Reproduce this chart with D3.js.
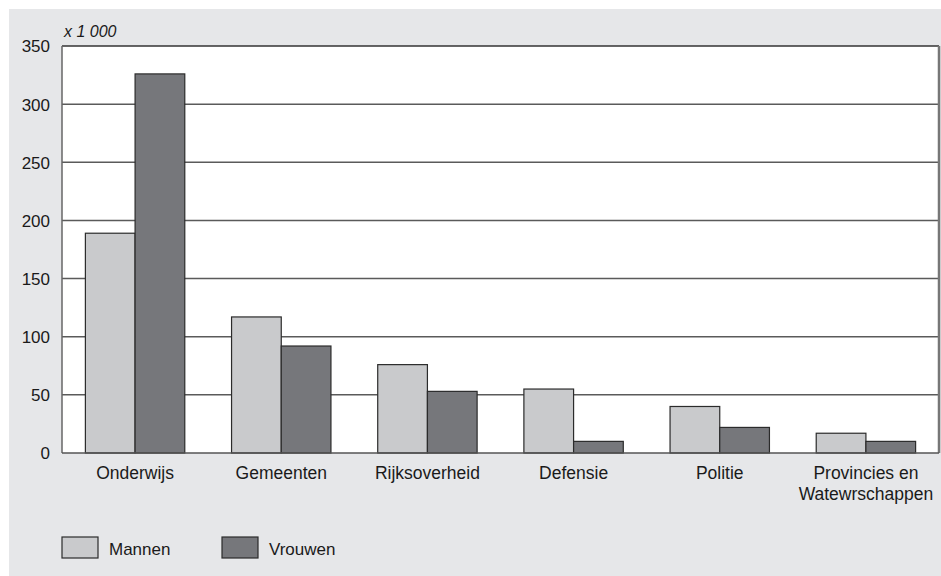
<!DOCTYPE html>
<html><head><meta charset="utf-8">
<script src="https://cdn.jsdelivr.net/npm/d3@7"></script>
<style>
html,body{margin:0;padding:0;background:#fff;}
svg{display:block;}
text{font-family:"Liberation Sans",Arial,Helvetica,sans-serif;fill:#1a1a1a;}
</style></head>
<body>
<svg id="chart" width="941" height="576"></svg>
<script>
const categories = ["Onderwijs","Gemeenten","Rijksoverheid","Defensie","Politie","Provincies en\nWatewrschappen"];
const seriesNames = ["Mannen","Vrouwen"];
const mannen = [189, 117, 76, 55, 40, 17];
const vrouwen = [326, 92, 53, 10, 22, 10];
const yTicks = [0,50,100,150,200,250,300,350];
const unitLabel = "x 1 000";
const colors = ["#c9cacc","#76777b"];

const svg = d3.select("#chart");
const W = 941, H = 576;
const m = {left:62, right:2, top:46, bottom:123};
const iw = W - m.left - m.right, ih = H - m.top - m.bottom;

svg.append("rect").attr("x",9).attr("y",9).attr("width",W-9).attr("height",H-9).attr("fill","#e6e7e9");

const g = svg.append("g").attr("transform",`translate(${m.left},${m.top})`);
g.append("rect").attr("width",iw).attr("height",ih).attr("fill","#fff");

const x0 = d3.scaleBand().domain(categories).range([0,iw]).paddingInner(0.32).paddingOuter(0.16);
const x1 = d3.scaleBand().domain(seriesNames).range([0,x0.bandwidth()]);
const y = d3.scaleLinear().domain([0,350]).range([ih,0]);

// gridlines
g.selectAll(".grid").data(yTicks.filter(d=>d>0)).enter().append("line")
  .attr("x1",0).attr("x2",iw).attr("y1",d=>y(d)).attr("y2",d=>y(d))
  .attr("stroke",d=>d===350?"#333":"#5a5a5a").attr("stroke-width",1.5);

// bars
const data = categories.map((c,i)=>({c, vals:[mannen[i],vrouwen[i]]}));
const grp = g.selectAll(".grp").data(data).enter().append("g").attr("transform",d=>`translate(${x0(d.c)},0)`);
grp.selectAll("rect").data(d=>d.vals.map((v,j)=>({k:seriesNames[j],v,j}))).enter().append("rect")
  .attr("x",d=>x1(d.k)).attr("y",d=>y(d.v)).attr("width",x1.bandwidth()).attr("height",d=>ih-y(d.v))
  .attr("fill",d=>colors[d.j]).attr("stroke","#2b2b2b").attr("stroke-width",1.2);

// frame
g.append("line").attr("x1",iw).attr("x2",iw).attr("y1",0).attr("y2",ih).attr("stroke","#777").attr("stroke-width",2.5);
g.append("line").attr("x1",0).attr("x2",0).attr("y1",0).attr("y2",ih).attr("stroke","#666").attr("stroke-width",1.5);
g.append("line").attr("x1",0).attr("x2",iw).attr("y1",ih).attr("y2",ih).attr("stroke","#555").attr("stroke-width",1.5);

// y axis
const yAxis = d3.axisLeft(y).tickValues(yTicks).tickSize(0).tickPadding(12);
const ya = g.append("g").call(yAxis);
ya.select(".domain").remove();
ya.selectAll("text").style("font-size","17px").attr("fill","#1a1a1a").attr("dy","0.35em");

g.append("text").attr("x",2).attr("y",-9).text(unitLabel).style("font-size","16px").style("font-style","italic");

// x axis
const xAxis = d3.axisBottom(x0).tickSize(0).tickPadding(0).tickFormat("");
const xa = g.append("g").attr("transform",`translate(0,${ih})`).call(xAxis);
xa.select(".domain").remove();
xa.selectAll(".tick").each(function(d){
  const lines = d.split("\n");
  const t = d3.select(this).append("text").attr("text-anchor","middle").style("font-size","17.5px").attr("fill","#1a1a1a");
  lines.forEach((l,i)=>t.append("tspan").attr("x",0).attr("y",26 + i*21).text(l));
});

// legend
const lg = svg.append("g").attr("transform","translate(62,537)");
seriesNames.forEach((s,i)=>{
  const gi = lg.append("g").attr("transform",`translate(${i*160},0)`);
  gi.append("rect").attr("width",36).attr("height",21).attr("fill",colors[i]).attr("stroke","#2b2b2b").attr("stroke-width",1.2);
  gi.append("text").attr("x",47).attr("y",18).text(s).style("font-size","17px");
});
</script>
</body></html>
